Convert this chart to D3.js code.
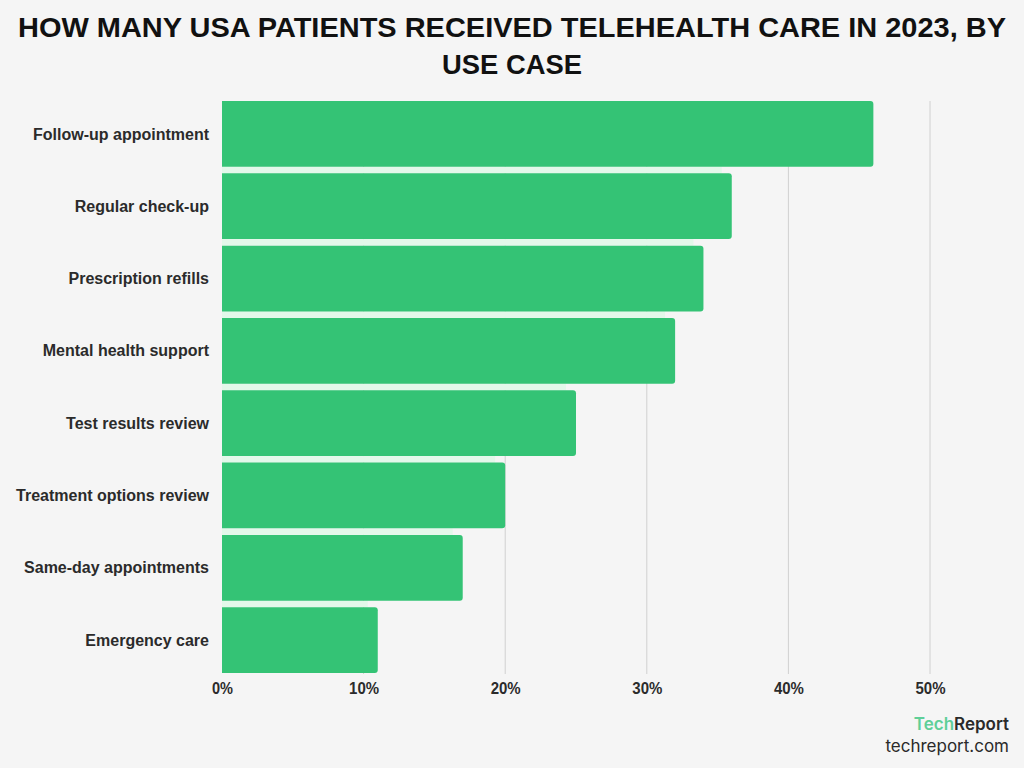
<!DOCTYPE html>
<html>
<head>
<meta charset="utf-8">
<script src="https://cdn.jsdelivr.net/npm/d3@7"></script>
<style>
  body { margin: 0; background: #f5f5f5; }
  svg { display: block; }
</style>
</head>
<body>
<svg id="chart" width="1024" height="768"></svg>
<script>
const categories = ["Follow-up appointment", "Regular check-up", "Prescription refills", "Mental health support",
  "Test results review", "Treatment options review", "Same-day appointments", "Emergency care"];
const values = [46, 36, 34, 32, 25, 20, 17, 11];
const ticks = [0, 10, 20, 30, 40, 50];

const svg = d3.select("#chart");
svg.append("rect").attr("width", 1024).attr("height", 768).attr("fill", "#f5f5f5");

/* title - narrow bold look */
const titleLines = [
  { text: "HOW MANY USA PATIENTS RECEIVED TELEHEALTH CARE IN 2023, BY", y: 37, w: 988 },
  { text: "USE CASE", y: 74, w: 140 }
];
svg.selectAll("text.title")
  .data(titleLines)
  .enter()
  .append("text")
  .attr("x", 512)
  .attr("y", d => d.y)
  .attr("text-anchor", "middle")
  .attr("textLength", d => d.w)
  .attr("lengthAdjust", "spacingAndGlyphs")
  .attr("font-family", "'Liberation Sans', Arial, sans-serif")
  .attr("font-weight", "bold")
  .attr("font-size", 28)
  .attr("fill", "#111")
  .text(d => d.text);

const x = d3.scaleLinear().domain([0, 50]).range([222, 930]);
const y = d3.scaleBand().domain(categories).range([101, 673]).paddingInner(0.09).paddingOuter(0);

/* grid */
svg.selectAll("line.grid")
  .data(ticks.slice(1))
  .enter()
  .append("line")
  .attr("x1", d => x(d)).attr("x2", d => x(d))
  .attr("y1", 101).attr("y2", 674)
  .attr("stroke", "#d0d0d0").attr("stroke-width", 1);

/* faint strip in gaps */
svg.selectAll("rect.gap")
  .data(values.slice(1))
  .enter()
  .append("rect")
  .attr("x", x(0))
  .attr("y", (d, i) => y(categories[i]) + y.bandwidth())
  .attr("width", (d, i) => x(Math.min(d, values[i])) - x(0) - 10)
  .attr("height", y.step() - y.bandwidth())
  .attr("fill", "#e3f8ea");

/* bars */
svg.selectAll("path.bar")
  .data(values)
  .enter()
  .append("path")
  .attr("d", (d, i) => {
    const x0 = x(0), x1 = x(d), y0 = y(categories[i]), h = y.bandwidth(), r = 3;
    return `M${x0},${y0}H${x1 - r}Q${x1},${y0} ${x1},${y0 + r}V${y0 + h - r}Q${x1},${y0 + h} ${x1 - r},${y0 + h}H${x0}Z`;
  })
  .attr("fill", "#34c375");

/* category labels */
svg.selectAll("text.cat")
  .data(categories)
  .enter()
  .append("text")
  .attr("x", 209)
  .attr("y", d => y(d) + y.bandwidth() / 2)
  .attr("dy", "0.35em")
  .attr("text-anchor", "end")
  .attr("font-family", "'Liberation Sans', Arial, sans-serif")
  .attr("font-weight", "bold")
  .attr("font-size", 16)
  .attr("fill", "#2b2b2b")
  .text(d => d);

/* x axis */
const xAxis = svg.append("g")
  .attr("transform", "translate(0,674)")
  .call(d3.axisBottom(x).tickValues(ticks).tickFormat(d => d + "%").tickSize(0).tickPadding(9));
xAxis.select(".domain").remove();
xAxis.selectAll("text")
  .attr("font-family", "'Liberation Sans', Arial, sans-serif")
  .attr("font-weight", "bold")
  .attr("font-size", 16)
  .attr("textLength", 30)
  .attr("lengthAdjust", "spacingAndGlyphs")
  .attr("fill", "#2b2b2b");
xAxis.selectAll("text").filter(d => d === 0).attr("textLength", 21);

/* logo */
const logo = svg.append("text")
  .attr("x", 1009).attr("y", 730)
  .attr("text-anchor", "end")
  .attr("font-family", "Inter, 'Noto Sans', sans-serif")
  .attr("font-weight", 600)
  .attr("font-size", 17);
logo.append("tspan").attr("fill", "#5fcf98").text("Tech");
logo.append("tspan").attr("fill", "#2a2a2a").text("Report");
svg.append("text")
  .attr("x", 1009).attr("y", 752)
  .attr("text-anchor", "end")
  .attr("font-family", "Inter, 'Noto Sans', sans-serif")
  .attr("font-size", 17)
  .attr("fill", "#2a2a2a")
  .text("techreport.com");
</script>
</body>
</html>
